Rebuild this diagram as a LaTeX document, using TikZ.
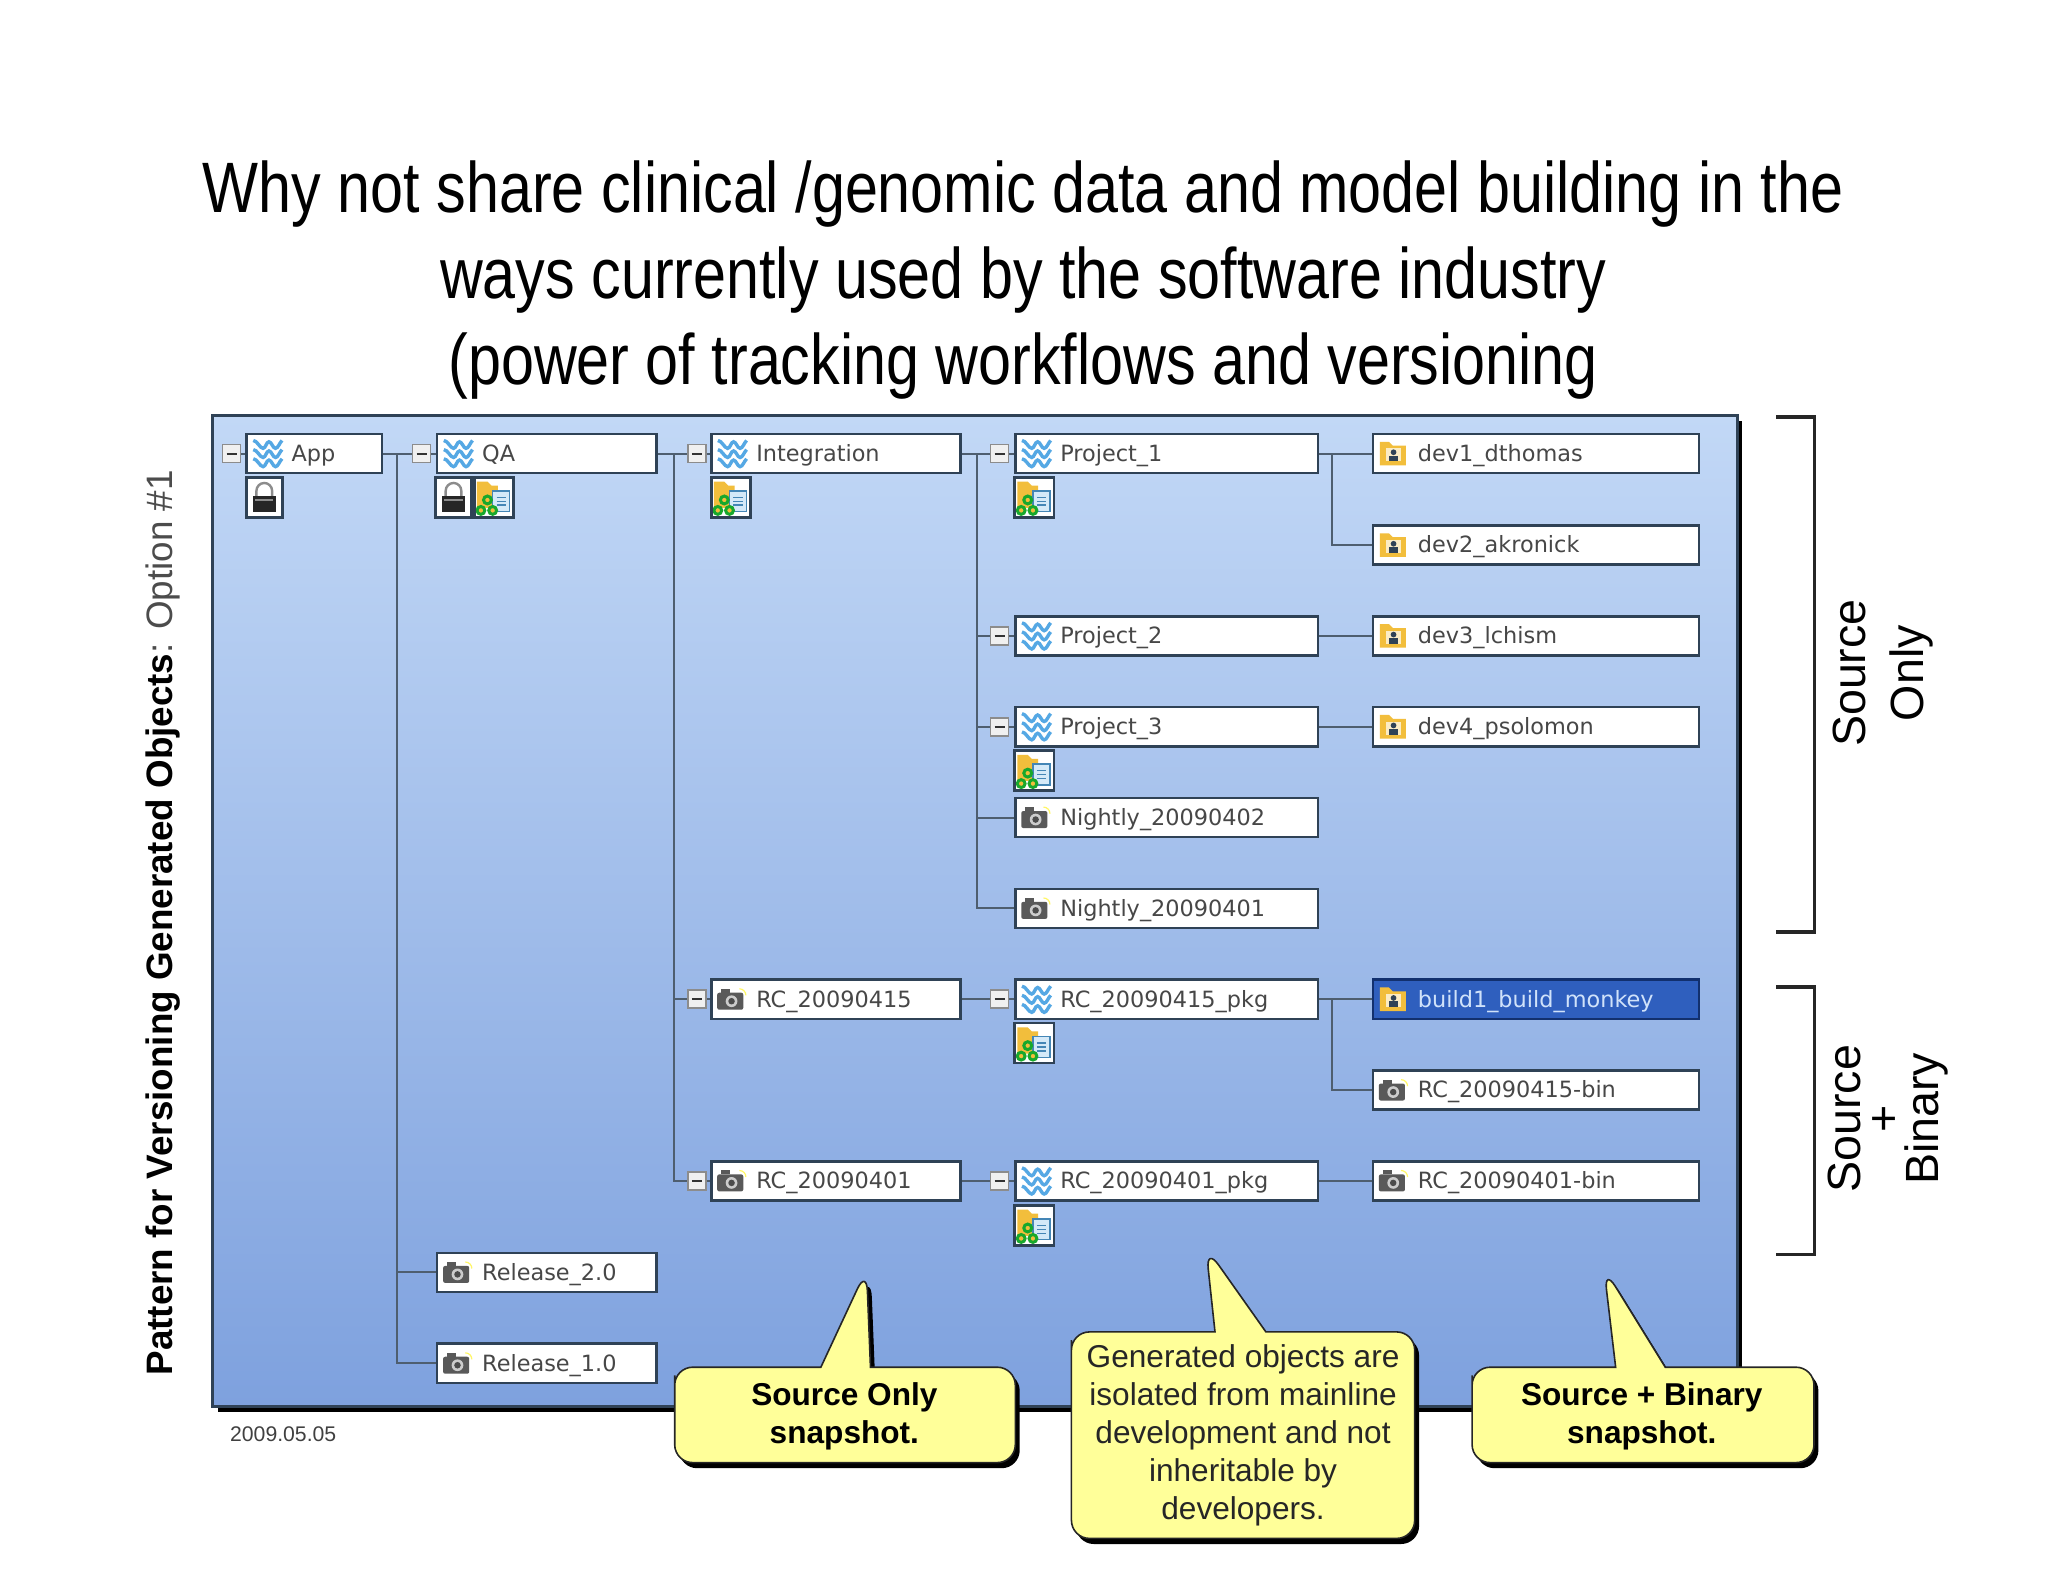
\documentclass[tikz,border=0pt]{standalone}
\usepackage{fontspec}
\setmainfont{Liberation Sans}
\newfontfamily\titlefont[FakeStretch=0.83]{Liberation Sans}
\newfontfamily\treefont{DejaVu Sans}
\usetikzlibrary{shadows}
\definecolor{panelbright}{HTML}{C2D8F6}
\definecolor{panelmid}{HTML}{AAC5EC}
\definecolor{paneldeep}{HTML}{7EA1DE}
\definecolor{treeslate}{HTML}{2F4256}
\definecolor{wavesky}{HTML}{55A8E4}
\definecolor{folderamber}{HTML}{F2BE3C}
\definecolor{leafgreen}{HTML}{18A82C}
\definecolor{balloonbutter}{HTML}{FFFF99}
\definecolor{pickedblue}{HTML}{2F5FBE}
\definecolor{pickednavy}{HTML}{12306E}
\definecolor{pickedtext}{HTML}{D0E2FA}
\tikzset{
    waveicon/.pic={
        \foreach \v in {-7,0,7}
            \draw[wavesky, line width=1.7pt] (-11,\v-3) .. controls (-8,\v-3) and (-6,\v+3) .. (-3.5,\v+3) .. controls (-1.5,\v+3) and (-1,\v-2) .. (1,\v-2) .. controls (3,\v-2) and (4,\v+3) .. (6,\v+3) .. controls (8,\v+3) and (9,\v-1) .. (11,\v-3);
    },
    foldericon/.pic={
        \fill[folderamber] (-10,-9) -- (-3,-9) -- (0,-6) -- (10,-6) -- (10,9) -- (-10,9) -- cycle;
        \fill[white!70!folderamber] (-5,-4) rectangle (6,6);
        \fill[treeslate] (0.5,-1) circle (2.2);
        \fill[treeslate] (-3,6) rectangle (4,1.5);
    },
    cameraicon/.pic={
        \fill[black!65, rounded corners=1pt] (-10,-5) rectangle (10,8);
        \fill[black!65] (-7,-8) rectangle (0,-5);
        \fill[white!80!black] (1,1.5) circle (4.5);
        \fill[black!70] (1,1.5) circle (2.5);
        \draw[yellow!60!white, line width=0.6pt] (7,-8) arc[start angle=270, end angle=360, radius=5];
    },
    lockicon/.pic={
        \draw[black!45, line width=1.2pt] (-6,-1) -- (-6,-5) arc[start angle=180, end angle=360, radius=6] -- (6,-1);
        \fill[black!85] (-9,-1) rectangle (9,11);
        \fill[black!45] (-7,1) rectangle (7,3);
    },
    genicon/.pic={
        \fill[folderamber] (-13,-12) -- (-5,-12) -- (-2,-9) -- (3,-9) -- (3,8) -- (-13,8) -- cycle;
        \fill[wavesky!25!white] (-1,-5) rectangle (12,11);
        \draw[wavesky!80!black, line width=0.7pt] (-1,-5) rectangle (12,11) (2,0) -- (9,0) (2,3) -- (9,3) (2,6) -- (9,6);
        \draw[leafgreen, line width=1.5pt, fill=folderamber] (-5,2) circle (3) (-10,10) circle (3) (-1,10) circle (3);
    },
    treebox/.style={draw=treeslate, line width=1.3pt, fill=white, rectangle, anchor=west, minimum height=19.6pt,
        inner xsep=1pt, inner ysep=0pt, align=left, text height=10.2pt, text depth=2.4pt, text=black!72,
        font=\treefont\fontsize{11.2}{13}\selectfont, execute at begin node={\hspace*{21.5pt}}},
    colA/.style={minimum width=67.7pt, text width=65.7pt},
    colB/.style={minimum width=109.6pt, text width=107.6pt},
    colC/.style={minimum width=124.5pt, text width=122.5pt},
    colD/.style={minimum width=151.4pt, text width=149.4pt},
    colE/.style={minimum width=163pt, text width=161pt},
    wavebox/.style={treebox, path picture={\pic at ([xshift=10.5pt]path picture bounding box.west) {waveicon};}},
    folderbox/.style={treebox, path picture={\pic at ([xshift=10pt]path picture bounding box.west) {foldericon};}},
    camerabox/.style={treebox, path picture={\pic at ([xshift=9.5pt]path picture bounding box.west) {cameraicon};}},
    iconbox/.style={draw=treeslate, line width=1.3pt, fill=white, rectangle, minimum width=19.6pt, minimum height=20pt, inner sep=0pt},
    lockbox/.style={iconbox, minimum width=18pt, path picture={\pic at (path picture bounding box.center) {lockicon};}},
    genbox/.style={iconbox, path picture={\pic at (path picture bounding box.center) {genicon};}},
    togglebox/.style={draw=black!45, line width=0.8pt, fill=black!6, rectangle, minimum size=9pt, inner sep=0pt,
        path picture={\draw[black!80, line width=1pt] ([xshift=-2.5pt]path picture bounding box.center) -- ([xshift=2.5pt]path picture bounding box.center);}},
    treeline/.style={draw=treeslate!85!white, line width=1pt},
    bracketline/.style={draw=black!85, line width=1.7pt},
    balloon/.style={draw=black!85, line width=0.8pt, fill=balloonbutter,
        drop shadow={shadow xshift=2.2pt, shadow yshift=-2.8pt, opacity=1, fill=black}},
    balloontext/.style={align=center, font=\fontsize{15.8}{19}\selectfont}
}
\newcommand{\balloonshape}[8]{
    \path[balloon] (#1,#2+20) [rounded corners=9pt] -- (#1,#2) [sharp corners] -- (#5,#2) [rounded corners=11pt] -- (#6,#7) [sharp corners] -- (#8,#2)
        [rounded corners=9pt] -- (#3,#2) -- (#3,#4) -- (#1,#4) -- cycle;
}
\begin{document}
\begin{tikzpicture}[x=0.6525pt, y=-0.6535pt]
    \useasboundingbox (0,0) rectangle (1569.3,1210.4);
    \node[font=\titlefont\fontsize{35.7}{43}\selectfont, align=center] (headline) at (784,214.5)
        {Why not share clinical /genomic data and model building in the\\ways currently used by the software industry\\(power of tracking workflows and versioning};
    \path[top color=panelbright, middle color=panelmid, bottom color=paneldeep, draw=treeslate, line width=1.3pt,
        drop shadow={shadow xshift=2.4pt, shadow yshift=-2.6pt, opacity=1, fill=black}] (163,318) rectangle (1331.5,1076);
    % left caption and date
    \node[rotate=90, font=\fontsize{18.4}{20}\selectfont] (caption) at (125,706) {\textbf{Pattern for Versioning Generated Objects}\textcolor{black!70}{: Option \#1}};
    \node[font=\fontsize{10.6}{12}\selectfont, text=black!75] (stamp) at (217,1097) {2009.05.05};
    % tree boxes
    \node[wavebox, colA]   (app)    at (188,347)    {App};
    \node[wavebox, colB]   (qa)     at (334,347)    {QA};
    \node[wavebox, colC]   (integ)  at (544,347)    {Integration};
    \node[wavebox, colD]   (proja)  at (777,347)    {Project\_1};
    \node[wavebox, colD]   (projb)  at (777,486.5)  {Project\_2};
    \node[wavebox, colD]   (projc)  at (777,556)    {Project\_3};
    \node[camerabox, colD] (nighta) at (777,625.5)  {Nightly\_20090402};
    \node[camerabox, colD] (nightb) at (777,695)    {Nightly\_20090401};
    \node[folderbox, colE] (deva)   at (1051,347)   {dev1\_dthomas};
    \node[folderbox, colE] (devb)   at (1051,417)   {dev2\_akronick};
    \node[folderbox, colE] (devc)   at (1051,486.5) {dev3\_lchism};
    \node[folderbox, colE] (devd)   at (1051,556)   {dev4\_psolomon};
    \node[camerabox, colC] (rca)    at (544,764.5)  {RC\_20090415};
    \node[wavebox, colD]   (pkga)   at (777,764.5)  {RC\_20090415\_pkg};
    \node[folderbox, colE, draw=pickednavy, fill=pickedblue, text=pickedtext] (build) at (1051,764.5) {build1\_build\_monkey};
    \node[camerabox, colE] (bina)   at (1051,834)   {RC\_20090415-bin};
    \node[camerabox, colC] (rcb)    at (544,903.5)  {RC\_20090401};
    \node[wavebox, colD]   (pkgb)   at (777,903.5)  {RC\_20090401\_pkg};
    \node[camerabox, colE] (binb)   at (1051,903.5) {RC\_20090401-bin};
    \node[camerabox, colB] (rela)   at (334,973.5)  {Release\_2.0};
    \node[camerabox, colB] (relb)   at (334,1043)   {Release\_1.0};
    % small icon boxes under the tree boxes
    \node[lockbox] (applock)  at (202.5,380.5) {};
    \node[lockbox] (qalock)   at (347.5,380.5) {};
    \node[genbox]  (qagen)    at (378.5,380.5) {};
    \node[genbox]  (integgen) at (560,380.5)   {};
    \node[genbox]  (projagen) at (792.5,380.5) {};
    \node[genbox]  (projcgen) at (792.5,589.5) {};
    \node[genbox]  (pkgagen)  at (792.5,798)   {};
    \node[genbox]  (pkgbgen)  at (792.5,937.5) {};
    % toggles
    \node[togglebox] (tapp)   at (177.5,347)  {};
    \node[togglebox] (tqa)    at (323,347)    {};
    \node[togglebox] (tinteg) at (534,347)    {};
    \node[togglebox] (tproja) at (766,347)    {};
    \node[togglebox] (tprojb) at (766,486.5)  {};
    \node[togglebox] (tprojc) at (766,556)    {};
    \node[togglebox] (trca)   at (534,764.5)  {};
    \node[togglebox] (tpkga)  at (766,764.5)  {};
    \node[togglebox] (trcb)   at (534,903.5)  {};
    \node[togglebox] (tpkgb)  at (766,903.5)  {};
    % connectors
    \coordinate (busa) at (304,347);
    \coordinate (busb) at (516.5,347);
    \coordinate (busc) at (749,347);
    \coordinate (busd) at (1021,347);
    \coordinate (buse) at (1021,764.5);
    \draw[treeline] (app) -- (tqa) (tqa) -- (qa) (qa) -- (tinteg) (tinteg) -- (integ) (integ) -- (tproja) (tproja) -- (proja) (proja) -- (deva);
    \draw[treeline] (tapp) -- (app) (projb) -- (devc) (projc) -- (devd) (tprojb) -- (projb) (tprojc) -- (projc);
    \draw[treeline] (busa) |- (rela);
    \draw[treeline] (busa) |- (relb);
    \draw[treeline] (busb) |- (trca);
    \draw[treeline] (busb) |- (trcb);
    \draw[treeline] (busc) |- (tprojb);
    \draw[treeline] (busc) |- (tprojc);
    \draw[treeline] (busc) |- (nighta);
    \draw[treeline] (busc) |- (nightb);
    \draw[treeline] (busd) |- (devb);
    \draw[treeline] (rca) -- (tpkga) (tpkga) -- (pkga) (pkga) -- (build) (trca) -- (rca);
    \draw[treeline] (buse) |- (bina);
    \draw[treeline] (rcb) -- (tpkgb) (tpkgb) -- (pkgb) (pkgb) -- (binb) (trcb) -- (rcb);
    % brackets at the right
    \coordinate (brackaa) at (1361,319);
    \coordinate (brackab) at (1390.5,713);
    \coordinate (brackac) at (1361,713);
    \coordinate (brackba) at (1361,755);
    \coordinate (brackbb) at (1390.5,960);
    \coordinate (brackbc) at (1361,960);
    \draw[bracketline] (brackaa) -| (brackab) -- (brackac);
    \draw[bracketline] (brackba) -| (brackbb) -- (brackbc);
    \node[rotate=90, align=center, font=\fontsize{23.3}{29}\selectfont] (srconly) at (1443,515) {Source\\Only};
    \node[rotate=90, align=center, font=\fontsize{23.3}{19.5}\selectfont] (srcbin) at (1447,856) {Source\\+\\Binary};
    % balloons
    \balloonshape{517}{1046}{778}{1119}{629}{664}{971}{667}
    \balloonshape{821}{1019}{1084}{1177}{931}{924}{954}{970}
    \balloonshape{1128}{1046}{1390}{1119}{1238}{1229}{970}{1276}
    \node[balloontext] (noteleft) at (647,1083.5) {\textbf{Source Only}\\\textbf{snapshot.}};
    \node[balloontext, text=black!85] (notemid) at (952.5,1098) {Generated objects are\\isolated from mainline\\development and not\\inheritable by\\developers.};
    \node[balloontext] (noteright) at (1258,1083.5) {\textbf{Source + Binary}\\\textbf{snapshot.}};
\end{tikzpicture}
\end{document}
